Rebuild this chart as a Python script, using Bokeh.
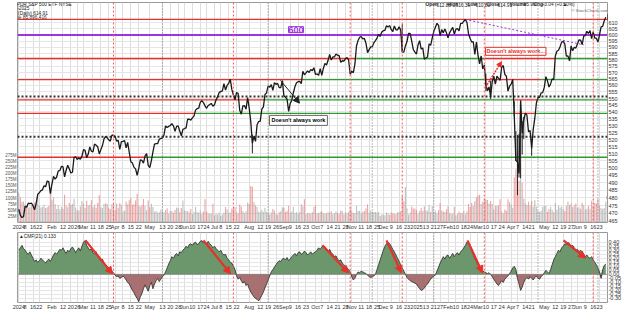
import math
import pandas as pd
from bokeh.plotting import figure
from bokeh.layouts import column
from bokeh.models import (Range1d, LinearScale, LinearAxis, FixedTicker, PrintfTickFormatter,
                          Span, Label, Arrow, NormalHead)
from bokeh.embed import file_html
from bokeh.resources import INLINE

# ---------------- data ----------------
holidays = ["2024-01-15", "2024-02-19", "2024-03-29", "2024-05-27", "2024-06-19", "2024-07-04",
            "2024-09-02", "2024-11-28", "2024-12-25", "2025-01-01", "2025-01-09", "2025-01-20",
            "2025-02-17", "2025-04-18", "2025-05-26", "2025-06-19"]
dates = [d.strftime("%Y-%m-%d") for d in pd.bdate_range("2024-01-02", "2025-06-27")]
dates = [d for d in dates if d not in holidays]
idx = {d: i for i, d in enumerate(dates)}

close = [
    472.65, 468.79, 467.28, 467.92, 474.60, 473.88, 476.56, 476.35, 476.68, 474.93, 472.29, 476.49, 482.43, 483.45, 484.86, 485.39, 488.03, 487.41, 491.27, 490.89, 482.88,
    489.20, 494.35, 492.55, 493.98, 498.10, 498.32, 501.20, 500.98, 494.08, 498.57, 502.01, 499.51, 496.76, 497.21, 507.50, 507.85, 505.99, 506.93, 506.26, 508.08,
    512.85, 512.30, 507.18, 509.75, 514.81, 511.72, 511.28, 516.78, 515.97, 514.95, 509.83, 512.86, 515.71, 520.48, 522.20, 521.21, 519.77, 518.81, 523.17, 523.07,
    522.16, 518.84, 519.41, 513.07, 518.43, 518.72, 519.32, 514.12, 518.00, 510.85, 504.45, 503.53, 500.55, 499.52, 495.16, 499.72, 505.65, 505.41, 503.49, 508.26, 510.06, 501.98,
    500.35, 505.03, 511.29, 516.78, 517.14, 517.19, 520.17, 520.84, 520.91, 523.30, 529.78, 528.69, 529.45, 530.06, 531.36, 529.83, 525.96, 529.44, 529.81, 526.10, 522.61, 527.37,
    527.80, 528.39, 534.67, 534.66, 534.01, 535.66, 536.95, 541.36, 542.45, 542.78, 547.10, 548.49, 547.00, 544.51, 542.74, 544.83, 545.51, 546.37, 544.22,
    545.34, 549.01, 551.46, 554.64, 555.28, 555.82, 561.32, 556.48, 559.99, 561.53, 564.86, 556.94, 552.66, 548.99, 554.65, 553.78, 541.23, 538.41, 544.44, 544.76, 542.00, 550.81,
    543.01, 532.90, 517.38, 522.15, 518.66, 530.65, 532.99, 533.27, 542.04, 543.75, 553.07, 554.31, 559.61, 558.70, 560.62, 556.22, 562.13, 560.79, 561.56, 558.30, 558.35, 563.68,
    552.08, 550.95, 549.61, 540.36, 546.41, 548.79, 554.42, 559.09, 562.01, 562.84, 563.07, 561.40, 570.98, 568.25, 569.67, 571.30, 570.04, 572.30, 571.47, 573.76,
    568.62, 568.86, 567.82, 572.98, 567.80, 573.17, 577.14, 575.95, 579.58, 584.32, 579.78, 582.30, 582.35, 584.59, 583.63, 583.32, 577.99, 579.24, 579.04, 580.83, 581.77, 580.01, 568.64,
    571.04, 569.81, 576.70, 591.04, 595.61, 598.19, 598.76, 596.90, 597.19, 593.35, 585.75, 588.15, 590.30, 590.50, 593.67, 595.51, 597.53, 600.65, 598.83, 602.55,
    603.63, 603.91, 607.66, 606.66, 607.81, 604.68, 602.80, 607.46, 604.33, 604.21, 606.79, 604.29, 586.28, 586.10, 591.15, 594.69, 601.30, 601.34, 595.01, 588.22, 586.08,
    584.64, 591.95, 595.36, 588.63, 589.49, 580.49, 581.39, 582.19, 592.78, 591.64, 597.58, 603.05, 606.44, 609.75, 607.97, 599.37, 604.52, 601.81, 605.04, 601.82,
    597.77, 601.78, 604.22, 606.32, 600.77, 604.85, 605.31, 603.36, 609.73, 609.70, 611.49, 612.93, 610.38, 600.94, 597.21, 594.24, 594.54, 584.34, 594.18,
    583.77, 576.86, 583.06, 572.71, 575.92, 560.58, 555.92, 558.87, 551.42, 562.81, 567.15, 561.02, 567.13, 565.49, 563.98, 574.08, 575.46, 568.59, 567.08, 555.66, 559.39,
    560.97, 564.52, 536.70, 505.28, 504.38, 496.48, 548.62, 524.58, 533.94, 539.12, 537.61, 525.66, 526.41, 513.88, 527.25, 535.42, 546.69, 550.64, 550.85, 554.32, 554.54,
    558.47, 566.76, 563.51, 558.80, 561.15, 565.06, 564.34, 582.99, 586.84, 587.59, 590.46, 594.20, 594.85, 592.85, 582.86, 583.09, 579.11, 591.15, 587.21, 590.05, 589.39,
    592.71, 596.09, 595.93, 592.22, 599.14, 599.68, 603.08, 601.36, 603.75, 597.00, 602.68, 597.53, 597.44, 594.28, 600.15, 606.78, 607.12, 611.87, 614.91,
]

# wide-range days whose high/low bars stand out in the chart
wick_dates = ["2024-08-05", "2024-12-18", "2025-03-10", "2025-03-13", "2025-04-03", "2025-04-04",
              "2025-04-07", "2025-04-08", "2025-04-09", "2025-04-10", "2025-04-11", "2025-04-21"]
wick_high = [523.6, 609.0, 569.1, 563.7, 547.9, 525.9, 523.2, 524.0, 548.6, 533.5, 536.4, 520.5]
wick_low = [510.3, 585.9, 555.6, 549.7, 536.5, 505.1, 481.8, 493.6, 493.1, 509.4, 520.4, 508.6]

volume_m = [
    123, 103, 84, 86, 74, 70, 61, 62, 70, 75, 82, 78, 110, 69, 61, 63, 73, 59, 62, 67, 126,
    91, 103, 75, 55, 70, 53, 64, 56, 113, 68, 62, 80, 72, 76, 97, 61, 49, 50, 65, 88,
    77, 60, 89, 68, 72, 91, 62, 73, 60, 80, 111, 62, 59, 76, 80, 76, 60, 55, 75, 79,
    50, 77, 60, 79, 73, 45, 49, 86, 75, 91, 100, 73, 75, 90, 117, 69, 64, 71, 96, 67, 50, 90,
    62, 77, 63, 44, 47, 41, 42, 52, 45, 42, 51, 58, 37, 47, 47, 40, 51, 61, 59, 42, 59, 90,
    50, 47, 47, 41, 55, 35, 43, 63, 44, 40, 49, 36, 45, 95, 45, 38, 36, 36, 77,
    30, 37, 32, 40, 27, 34, 40, 63, 53, 40, 41, 57, 61, 63, 42, 37, 74, 65, 47, 38, 46, 82,
    76, 149, 146, 84, 70, 63, 45, 42, 52, 43, 60, 44, 39, 33, 41, 55, 49, 36, 32, 42, 46, 62,
    60, 43, 48, 68, 40, 44, 63, 39, 42, 36, 43, 75, 66, 95, 35, 39, 39, 36, 42, 63,
    70, 38, 38, 43, 46, 38, 37, 38, 42, 40, 46, 34, 39, 45, 39, 35, 49, 47, 34, 42, 38, 42, 61,
    45, 39, 39, 68, 47, 48, 37, 43, 47, 57, 75, 40, 49, 44, 43, 43, 40, 43, 28, 33,
    33, 30, 41, 36, 31, 41, 38, 36, 34, 41, 43, 46, 108, 88, 145, 57, 33, 41, 65, 57, 57,
    51, 37, 47, 60, 47, 65, 48, 48, 71, 43, 67, 43, 48, 38, 51, 80, 49, 46, 43, 54,
    66, 40, 36, 36, 64, 29, 36, 45, 38, 39, 47, 34, 45, 76, 63, 80, 67, 87, 103,
    110, 113, 76, 85, 97, 94, 92, 78, 88, 76, 53, 68, 68, 69, 95, 45, 38, 53, 48, 95, 84,
    74, 60, 185, 218, 256, 171, 241, 162, 97, 78, 70, 85, 69, 88, 64, 91, 64, 48, 44, 47, 64,
    68, 68, 44, 55, 64, 52, 42, 79, 52, 68, 61, 65, 55, 47, 67, 86, 70, 78, 63, 70, 78,
    59, 63, 56, 81, 72, 52, 56, 67, 56, 89, 66, 80, 78, 96, 70, 59, 55, 59, 86,
]

cmf = [
    0.30, 0.33, 0.36, 0.32, 0.30, 0.27, 0.25, 0.28, 0.24, 0.20, 0.16, 0.18, 0.15, 0.17, 0.20, 0.18, 0.16, 0.14, 0.17, 0.19, 0.16,
    0.20, 0.24, 0.27, 0.25, 0.28, 0.31, 0.30, 0.33, 0.29, 0.26, 0.30, 0.28, 0.32, 0.34, 0.31, 0.27, 0.30, 0.33, 0.29, 0.35,
    0.40, 0.42, 0.36, 0.33, 0.30, 0.32, 0.27, 0.25, 0.28, 0.22, 0.20, 0.17, 0.19, 0.14, 0.12, 0.10, 0.08, 0.06, 0.04, 0.02,
    -0.01, -0.03, -0.02, -0.05, -0.04, -0.02, -0.04, -0.07, -0.10, -0.12, -0.16, -0.20, -0.23, -0.27, -0.30, -0.34, -0.28, -0.24, -0.18, -0.13, -0.17, -0.21,
    -0.14, -0.10, -0.18, -0.12, -0.08, -0.05, -0.09, -0.06, -0.03, -0.01, 0.03, 0.08, 0.13, 0.17, 0.22, 0.20, 0.24, 0.26, 0.23, 0.28, 0.27, 0.30,
    0.32, 0.35, 0.33, 0.37, 0.38, 0.36, 0.39, 0.40, 0.37, 0.38, 0.41, 0.42, 0.39, 0.40, 0.37, 0.41, 0.38, 0.36, 0.33,
    0.35, 0.32, 0.30, 0.28, 0.30, 0.26, 0.24, 0.25, 0.20, 0.18, 0.15, 0.14, 0.10, 0.06, -0.02, -0.06, -0.04, -0.08, -0.11, -0.09, -0.14, -0.12,
    -0.18, -0.22, -0.25, -0.28, -0.30, -0.31, -0.33, -0.30, -0.26, -0.22, -0.17, -0.12, -0.07, -0.02, 0.03, 0.06, 0.09, 0.12, 0.15, 0.17, 0.16, 0.19,
    0.20, 0.18, 0.21, 0.17, 0.19, 0.22, 0.24, 0.26, 0.23, 0.27, 0.28, 0.25, 0.26, 0.29, 0.27, 0.24, 0.26, 0.28, 0.25, 0.27,
    0.28, 0.30, 0.33, 0.31, 0.34, 0.36, 0.34, 0.30, 0.28, 0.31, 0.27, 0.25, 0.22, 0.23, 0.19, 0.17, 0.18, 0.14, 0.12, 0.10, 0.08, 0.06, 0.03,
    -0.03, -0.07, -0.05, 0.00, 0.03, 0.02, 0.04, 0.03, 0.02, 0.01, -0.01, -0.03, -0.04, -0.03, -0.02, 0.00, 0.06, 0.12, 0.18, 0.24,
    0.30, 0.35, 0.38, 0.40, 0.38, 0.35, 0.31, 0.28, 0.24, 0.20, 0.16, 0.12, 0.08, 0.04, 0.00, -0.04, -0.06, -0.08, -0.09, -0.10, -0.11,
    -0.12, -0.15, -0.18, -0.20, -0.19, -0.17, -0.14, -0.12, -0.09, -0.06, -0.04, -0.02, -0.01, 0.04, 0.09, 0.14, 0.18, 0.22, 0.19, 0.23,
    0.24, 0.20, 0.23, 0.26, 0.22, 0.25, 0.27, 0.24, 0.28, 0.30, 0.33, 0.36, 0.40, 0.38, 0.35, 0.30, 0.25, 0.20, 0.16,
    0.12, 0.09, 0.06, 0.04, 0.03, 0.02, 0.01, 0.02, 0.00, -0.03, -0.06, -0.09, -0.12, -0.14, -0.11, -0.08, -0.10, -0.06, -0.04, -0.02, 0.01,
    0.04, 0.08, 0.10, 0.06, -0.05, -0.12, -0.20, -0.16, -0.10, -0.06, -0.04, -0.06, -0.03, -0.05, -0.07, -0.04, -0.02, -0.05, -0.06, -0.03, -0.01,
    0.02, 0.05, 0.03, 0.01, 0.06, 0.12, 0.18, 0.22, 0.26, 0.30, 0.28, 0.33, 0.35, 0.38, 0.37, 0.40, 0.38, 0.35, 0.36, 0.33, 0.30,
    0.31, 0.28, 0.30, 0.27, 0.25, 0.22, 0.24, 0.21, 0.20, 0.22, 0.18, 0.15, 0.12, 0.08, 0.03, -0.05, 0.06, 0.11, 0.13,
]

tick_dates = ["2024-01-02", "2024-01-08", "2024-01-16", "2024-01-22", "2024-02-01", "2024-02-12", "2024-02-20", "2024-02-26",
              "2024-03-01", "2024-03-11", "2024-03-18", "2024-03-25", "2024-04-01", "2024-04-08", "2024-04-15", "2024-04-22",
              "2024-05-01", "2024-05-13", "2024-05-20", "2024-05-28", "2024-06-03", "2024-06-10", "2024-06-17", "2024-06-24",
              "2024-07-01", "2024-07-08", "2024-07-15", "2024-07-22", "2024-08-01", "2024-08-12", "2024-08-19", "2024-08-26",
              "2024-09-03", "2024-09-09", "2024-09-16", "2024-09-23", "2024-10-01", "2024-10-07", "2024-10-14", "2024-10-21",
              "2024-10-28", "2024-11-01", "2024-11-11", "2024-11-18", "2024-11-25", "2024-12-02", "2024-12-09", "2024-12-16",
              "2024-12-23", "2025-01-02", "2025-01-13", "2025-01-21", "2025-01-27", "2025-02-03", "2025-02-10", "2025-02-18",
              "2025-02-24", "2025-03-03", "2025-03-10", "2025-03-17", "2025-03-24", "2025-04-01", "2025-04-07", "2025-04-14",
              "2025-04-21", "2025-05-01", "2025-05-12", "2025-05-19", "2025-05-27", "2025-06-02", "2025-06-09", "2025-06-16",
              "2025-06-23"]
tick_labels = ["2024", "8", "16", "22", "Feb", "12", "20", "26", "Mar", "11", "18", "25", "Apr", "8", "15", "22",
               "May", "13", "20", "28", "Jun", "10", "17", "24", "Jul", "8", "15", "22", "Aug", "12", "19", "26",
               "Sep", "9", "16", "23", "Oct", "7", "14", "21", "28", "Nov", "11", "18", "25", "Dec", "9", "16",
               "23", "2025", "13", "21", "27", "Feb", "10", "18", "24", "Mar", "10", "17", "24", "Apr", "7", "14",
               "21", "May", "12", "19", "27", "Jun", "9", "16", "23"]

price_ticks = list(range(460, 615, 5))
cmf_ticks = [-0.30, -0.25, -0.20, -0.15, -0.10, -0.05, 0.0, 0.05, 0.10, 0.15, 0.20, 0.25, 0.30, 0.35, 0.40]
vol_ticks = [25, 50, 75, 100, 125, 150, 175, 200, 225, 250, 275]

# horizontal support / resistance segments: (price, start, end, colour)  "L"/"R" = chart edges
level_segments = [
    (613, "L", "R", "red"),
    (581, "L", "2024-11-06", "red"), (581, "2024-11-06", "2025-03-07", "green"),
    (581, "2025-03-07", "2025-05-12", "red"), (581, "2025-05-12", "R", "green"),
    (564.5, "L", "2024-09-19", "red"), (564.5, "2024-09-19", "2025-03-07", "green"),
    (564.5, "2025-03-07", "2025-04-29", "red"), (564.5, "2025-04-29", "R", "green"),
    (549, "L", "2024-08-15", "red"), (549, "2024-08-15", "2025-04-03", "green"),
    (549, "2025-04-03", "2025-04-25", "red"), (549, "2025-04-25", "R", "green"),
    (539, "L", "2024-06-12", "red"), (539, "2024-06-12", "2025-04-03", "green"),
    (539, "2025-04-03", "2025-04-23", "red"), (539, "2025-04-23", "R", "green"),
    (507.5, "L", "2024-04-29", "red"), (507.5, "2024-04-29", "R", "green"),
]
dotted_levels = [551.5, 522]
purple_level = 600
trend_start = ("2025-02-19", 613.0)
trend_end = ("2025-06-06", 592.0)
red_vlines = ["2024-03-28", "2024-07-18", "2024-10-31", "2024-12-18", "2025-03-07", "2025-06-16"]
grey_vlines = ["2024-05-13", "2024-08-19", "2024-11-20", "2025-01-21", "2025-04-25", "2025-06-20"]

# ---------------- geometry helpers (pixel -> data) ----------------
LEFT, RIGHT = 17, 17
FRAME_W = 624 - LEFT - RIGHT
PX0, PXPB = 18.3, 1.578
X0 = (LEFT - PX0) / PXPB
X1 = X0 + FRAME_W / PXPB
P_TOP, P_BOT = 2, 225
C_TOP, C_BOT = 232, 303


def xi(px):
    return (px - PX0) / PXPB


def price_at(ypx):
    return 600 * math.exp((35 - ypx) / 740.0)


C_HI, C_LO = 0.52, -0.35


def cmf_at(ypx):
    return C_HI - (ypx - C_TOP) * (C_HI - C_LO) / (C_BOT - C_TOP)


def xpos(d):
    if d == "L":
        return X0
    if d == "R":
        return X1
    return idx[d]


FONT = "Liberation Sans"
RED = "#e8302a"
GREEN = "#2f9a2f"
PURPLE = "#9b35e0"
xs = list(range(len(dates)))
tick_idx = [idx[d] for d in tick_dates]
overrides = {i: lab for i, lab in zip(tick_idx, tick_labels)}


def compact(ax, size="5.5px"):
    ax.major_label_text_font = FONT
    ax.major_label_text_font_size = size
    ax.major_label_text_color = "#333333"
    ax.major_tick_out = 0
    ax.major_tick_in = 0
    ax.minor_tick_out = 0
    ax.minor_tick_in = 0
    ax.axis_line_color = None
    ax.major_label_standoff = 1


def style_axes(fig, yticks, fmt):
    fig.xaxis.ticker = FixedTicker(ticks=tick_idx)
    fig.xaxis.major_label_overrides = overrides
    compact(fig.xaxis[0])
    compact(fig.yaxis[0])
    fig.yaxis.ticker = FixedTicker(ticks=yticks)
    fig.yaxis.formatter = PrintfTickFormatter(format=fmt)
    fig.xgrid.grid_line_color = "#dddddd"
    fig.ygrid.grid_line_color = "#e6e6e6"
    fig.outline_line_color = "#999999"


# ---------------- price panel ----------------
p = figure(width=624, height=232, x_range=Range1d(X0, X1),
           y_range=Range1d(price_at(P_BOT), price_at(P_TOP)), y_axis_type="log",
           y_axis_location="right", output_backend="svg", toolbar_location=None,
           min_border_top=P_TOP, min_border_bottom=232 - P_BOT,
           min_border_left=LEFT, min_border_right=RIGHT)
style_axes(p, price_ticks, "%d")

p.extra_y_ranges = {"vol": Range1d(0, (P_BOT - P_TOP) / 0.248)}
p.extra_y_scales = {"vol": LinearScale()}
vax = LinearAxis(y_range_name="vol", ticker=FixedTicker(ticks=vol_ticks),
                 formatter=PrintfTickFormatter(format="%dM"))
compact(vax, size="4.5px")
vax.major_label_text_color = "#555555"
p.add_layout(vax, "left")

vcolors = ["#e36a6a" if (i > 0 and close[i] < close[i - 1]) else "#9a9a9a" for i in xs]
p.vbar(x=xs, top=volume_m, bottom=0, width=0.72, y_range_name="vol",
       fill_color=vcolors, line_color=None, fill_alpha=0.6)

for (lv, s, e, col) in level_segments:
    p.segment(x0=xpos(s), y0=lv, x1=xpos(e), y1=lv, line_color=RED if col == "red" else GREEN,
              line_width=1.4)
for lv in dotted_levels:
    p.segment(x0=X0, y0=lv, x1=X1, y1=lv, line_color="#333333", line_width=2, line_dash="2 2")
p.segment(x0=X0, y0=purple_level, x1=X1, y1=purple_level, line_color=PURPLE, line_width=2)
p.segment(x0=idx[trend_start[0]], y0=trend_start[1], x1=idx[trend_end[0]], y1=trend_end[1],
          line_color=PURPLE, line_width=1, line_dash="2 2")

wx = [idx[d] for d in wick_dates]
p.segment(x0=wx, y0=wick_low, x1=wx, y1=wick_high, line_color="#222222", line_width=1)
p.line(xs, close, line_color="#1a1a1a", line_width=1.3)

# annotations
p.add_layout(Label(x=xi(288), y=price_at(29.5), text="600", text_font=FONT, text_font_size="9px",
                   text_font_style="bold", text_color=PURPLE, text_baseline="middle",
                   background_fill_color="white", border_line_color=PURPLE, border_line_width=1))
p.add_layout(Label(x=xi(269), y=price_at(121.5), text="Doesn't always work", text_font=FONT,
                   text_font_size="5.5px", text_font_style="bold", text_color="black",
                   text_baseline="middle", background_fill_color="white",
                   border_line_color="#666666", padding=2))
p.add_layout(Label(x=xi(485), y=price_at(51.5), text="Doesn't always work...", text_font=FONT,
                   text_font_size="5.5px", text_font_style="bold", text_color=RED,
                   text_baseline="middle", background_fill_color="white",
                   border_line_color=RED, padding=1))
p.add_layout(Arrow(x_start=xi(280), y_start=price_at(81), x_end=xi(299), y_end=price_at(104),
                   line_color="#222222", line_width=1,
                   end=NormalHead(size=6, fill_color="#222222", line_color="#222222")))
p.add_layout(Arrow(x_start=xi(485), y_start=price_at(88), x_end=xi(501), y_end=price_at(62),
                   line_color=RED, line_width=1.5, line_dash="2 1",
                   end=NormalHead(size=5, fill_color=RED, line_color=RED)))


# header texts
def hdr(x, y, text, size="4.8px", bold=False, color="#222222"):
    p.add_layout(Label(x=xi(x), y=price_at(y), text=text, text_font=FONT, text_font_size=size,
                       text_font_style="bold" if bold else "normal", text_color=color,
                       text_baseline="middle"))


hdr(2, 3.5, "SPY", size="6.5px", bold=True)
hdr(13, 3.8, "SPDR S&P 500 ETF  NYSE")
hdr(2, 8.2, "27-Jun-2025")
hdr(2, 13, "\u25b2SPY (Daily) 614.91")
hdr(2, 17.5, "\u25a0Volume 85,896,416", color="#333333")
for (x, t, b) in [(425, "Open", True), (436, "612.88", False), (447, "High", True),
                  (455, "616.39", False), (467, "Low", True), (475, "610.83", False),
                  (486, "Close", True), (497, "614.91", False), (509, "Volume", True),
                  (523, "85.9M", False), (533, "Chg", True), (541, "+3.04 (+0.50%)", False),
                  (562, "\u25b2", False)]:
    hdr(x, 4.5, t, size="4.8px", bold=b)
hdr(571, 10, "\u00a9 StockCharts.com", size="4.3px", color="#666666")

# right axis value boxes
p.add_layout(Label(x=xi(606.5), y=614.91, text="614.91", text_font=FONT, text_font_size="4.8px",
                   text_font_style="bold", text_color="white", text_baseline="middle",
                   background_fill_color="#111111", padding=1))
p.add_layout(Label(x=xi(606), y=price_at(200), text="85,896,416", text_font=FONT,
                   text_font_size="3.6px", text_color="#222222", text_baseline="middle",
                   background_fill_color="#cccccc", padding=0))

# ---------------- CMF panel ----------------
c = figure(width=624, height=312 - 232, x_range=p.x_range, y_range=Range1d(C_LO, C_HI),
           y_axis_location="right", output_backend="svg", toolbar_location=None,
           min_border_top=C_TOP - 232, min_border_bottom=312 - C_BOT,
           min_border_left=LEFT, min_border_right=RIGHT)
style_axes(c, cmf_ticks, "%.2f")
pos = [max(v, 0) for v in cmf]
neg = [min(v, 0) for v in cmf]
c.varea(x=xs, y1=[0] * len(xs), y2=pos, fill_color="#6c966c")
c.varea(x=xs, y1=neg, y2=[0] * len(xs), fill_color="#a87070")
c.line(xs, cmf, line_color="#2a2a2a", line_width=0.8)
c.add_layout(Span(location=0, dimension="width", line_color="#777777", line_width=0.7))

c.add_layout(Label(x=xi(18.5), y=cmf_at(236.5), text="\u25b2CMF(21) 0.133", text_font=FONT,
                   text_font_size="4.8px", text_color="#222222", text_baseline="middle",
                   background_fill_color="white", background_fill_alpha=0.6))
c.add_layout(Label(x=xi(606.5), y=0.133, text="0.133", text_font=FONT, text_font_size="5px",
                   text_color="#111111", text_baseline="middle", background_fill_color="#cccccc",
                   padding=1))

for (xa, ya, xb, yb) in [(85, 240, 112, 274), (203, 240, 230, 274), (322, 245, 348, 273),
                         (386, 240, 401, 273), (467, 240, 482, 273), (563, 240, 585, 258)]:
    c.add_layout(Arrow(x_start=xi(xa), y_start=cmf_at(ya), x_end=xi(xb), y_end=cmf_at(yb),
                       line_color=RED, line_width=2.2,
                       end=NormalHead(size=7, fill_color=RED, line_color=RED)))

# vertical marker lines in both panels
for fig in (p, c):
    for d in red_vlines:
        fig.add_layout(Span(location=idx[d], dimension="height", line_color="#ff5555",
                            line_width=1, line_dash="2 2"))
    for d in grey_vlines:
        fig.add_layout(Span(location=idx[d], dimension="height", line_color="#777777",
                            line_width=1, line_dash="1 2"))

layout = column(p, c, spacing=0)
open("out.html", "w").write(file_html(layout, INLINE))
